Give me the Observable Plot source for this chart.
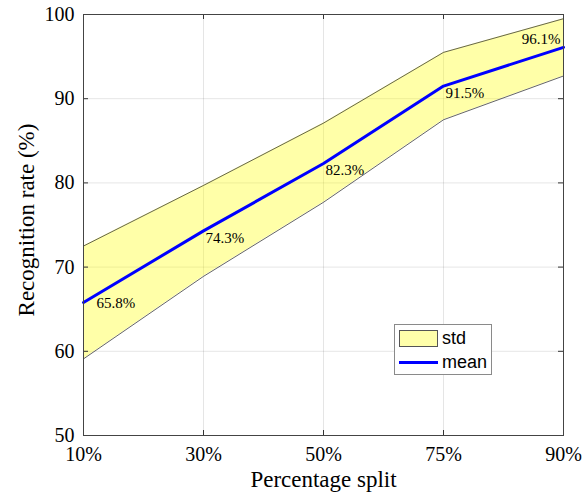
<!DOCTYPE html>
<html><head><meta charset="utf-8">
<script src="https://cdn.jsdelivr.net/npm/d3@7"></script>
<script src="https://cdn.jsdelivr.net/npm/@observablehq/plot@0.6"></script>
<style>
body{margin:0;background:#fff;}
#wrap{position:relative;width:583px;height:496px;}
#legend{position:absolute;left:394px;top:324px;width:98px;height:51px;border:1px solid #8a8a8a;background:#fff;font-family:'Liberation Sans',Arial,sans-serif;font-size:18px;color:#000;box-sizing:border-box;}
.row{position:absolute;left:4px;height:18px;display:flex;align-items:center;}
.sw{width:39px;height:17px;box-sizing:border-box;}
.lbl{margin-left:4px;line-height:18px;}
</style></head><body><div id="wrap"></div>
<script>
const splits = ["10%","30%","50%","75%","90%"];
const meanRate = [65.8,74.3,82.3,91.5,96.1];
const upperRate = [72.5,79.7,87.1,95.5,99.5];
const lowerRate = [59.1,68.9,77.7,87.5,92.7];
const yTicks = [50,60,70,80,90,100];
const seriesNames = ["std","mean"];
const xTitle = "Percentage split";
const yTitle = "Recognition rate (%)";

const W=583,H=496,mL=83,mR=20,mT=14,mB=61;
const innerW=W-mL-mR, innerH=H-mT-mB;
const rows = splits.map((s,i)=>({split:s,mean:meanRate[i],upper:upperRate[i],lower:lowerRate[i],label:meanRate[i].toFixed(1)+"%",i}));
const serif = "'Liberation Serif','DejaVu Serif',serif";
const chart = Plot.plot({
  width:W,height:H,marginLeft:mL,marginRight:mR,marginTop:mT,marginBottom:mB,
  style:{fontFamily:serif,background:"white",color:"#000"},
  x:{type:"point",domain:splits,padding:0},
  y:{domain:[50,100]},
  marks:[
    Plot.gridX(splits,{stroke:"#000",strokeOpacity:0.1}),
    Plot.gridY(yTicks,{stroke:"#000",strokeOpacity:0.1}),
    Plot.areaY(rows,{x:"split",y1:"lower",y2:"upper",fill:"#ffff00",fillOpacity:0.34,curve:"linear"}),
    Plot.lineY(rows,{x:"split",y:"upper",stroke:"#222",strokeWidth:0.7}),
    Plot.lineY(rows,{x:"split",y:"lower",stroke:"#222",strokeWidth:0.7}),
    Plot.lineY(rows,{x:"split",y:"mean",stroke:"#0000ff",strokeWidth:3}),
    Plot.text(rows.filter(d=>d.i===0),{x:"split",y:"mean",text:"label",textAnchor:"start",dx:13,dy:1,fontSize:15}),
    Plot.text(rows.filter(d=>d.i>0&&d.i<4),{x:"split",y:"mean",text:"label",textAnchor:"start",dx:2,dy:7,fontSize:15}),
    Plot.text(rows.filter(d=>d.i===4),{x:"split",y:"mean",text:"label",textAnchor:"end",dx:-3,dy:-8,fontSize:15}),
    Plot.ruleY(yTicks,{y:d=>d,insetRight:innerW-5,stroke:"#333"}),
    Plot.ruleY(yTicks,{y:d=>d,insetLeft:innerW-5,stroke:"#333"}),
    Plot.ruleX(splits,{x:d=>d,insetBottom:innerH-5,stroke:"#333"}),
    Plot.ruleX(splits,{x:d=>d,insetTop:innerH-5,stroke:"#333"}),
    Plot.axisY(yTicks,{tickSize:0,tickPadding:9,fontSize:20,label:null}),
    Plot.axisX(splits,{tickSize:0,tickPadding:11,fontSize:20,label:null}),
    Plot.frame({stroke:"#444"}),
    Plot.text([xTitle],{frameAnchor:"bottom",lineAnchor:"middle",textAnchor:"middle",dy:44,fontSize:23,text:d=>d,ariaLabel:"axis-title"}),
    Plot.text([yTitle],{frameAnchor:"left",lineAnchor:"middle",textAnchor:"middle",rotate:-90,dx:-57,dy:-5,fontSize:23,text:d=>d,ariaLabel:"axis-title"})
  ]
});
d3.select(chart).selectAll("g[aria-label='axis-title'] text").style("letter-spacing","1.1px");
const wrap=document.getElementById("wrap");
wrap.appendChild(chart);
const lg=document.createElement("div");lg.id="legend";
const r1=document.createElement("div");r1.className="row";r1.style.top="4px";
r1.innerHTML='<div class="sw" style="background:#ffffaa;border:1px solid #555"></div><span class="lbl"></span>';
r1.querySelector(".lbl").textContent=seriesNames[0];
const r2=document.createElement("div");r2.className="row";r2.style.top="28px";
r2.innerHTML='<div class="sw" style="height:3px;background:#0000ff"></div><span class="lbl"></span>';
r2.querySelector(".lbl").textContent=seriesNames[1];
lg.appendChild(r1);lg.appendChild(r2);wrap.appendChild(lg);
</script></body></html>
